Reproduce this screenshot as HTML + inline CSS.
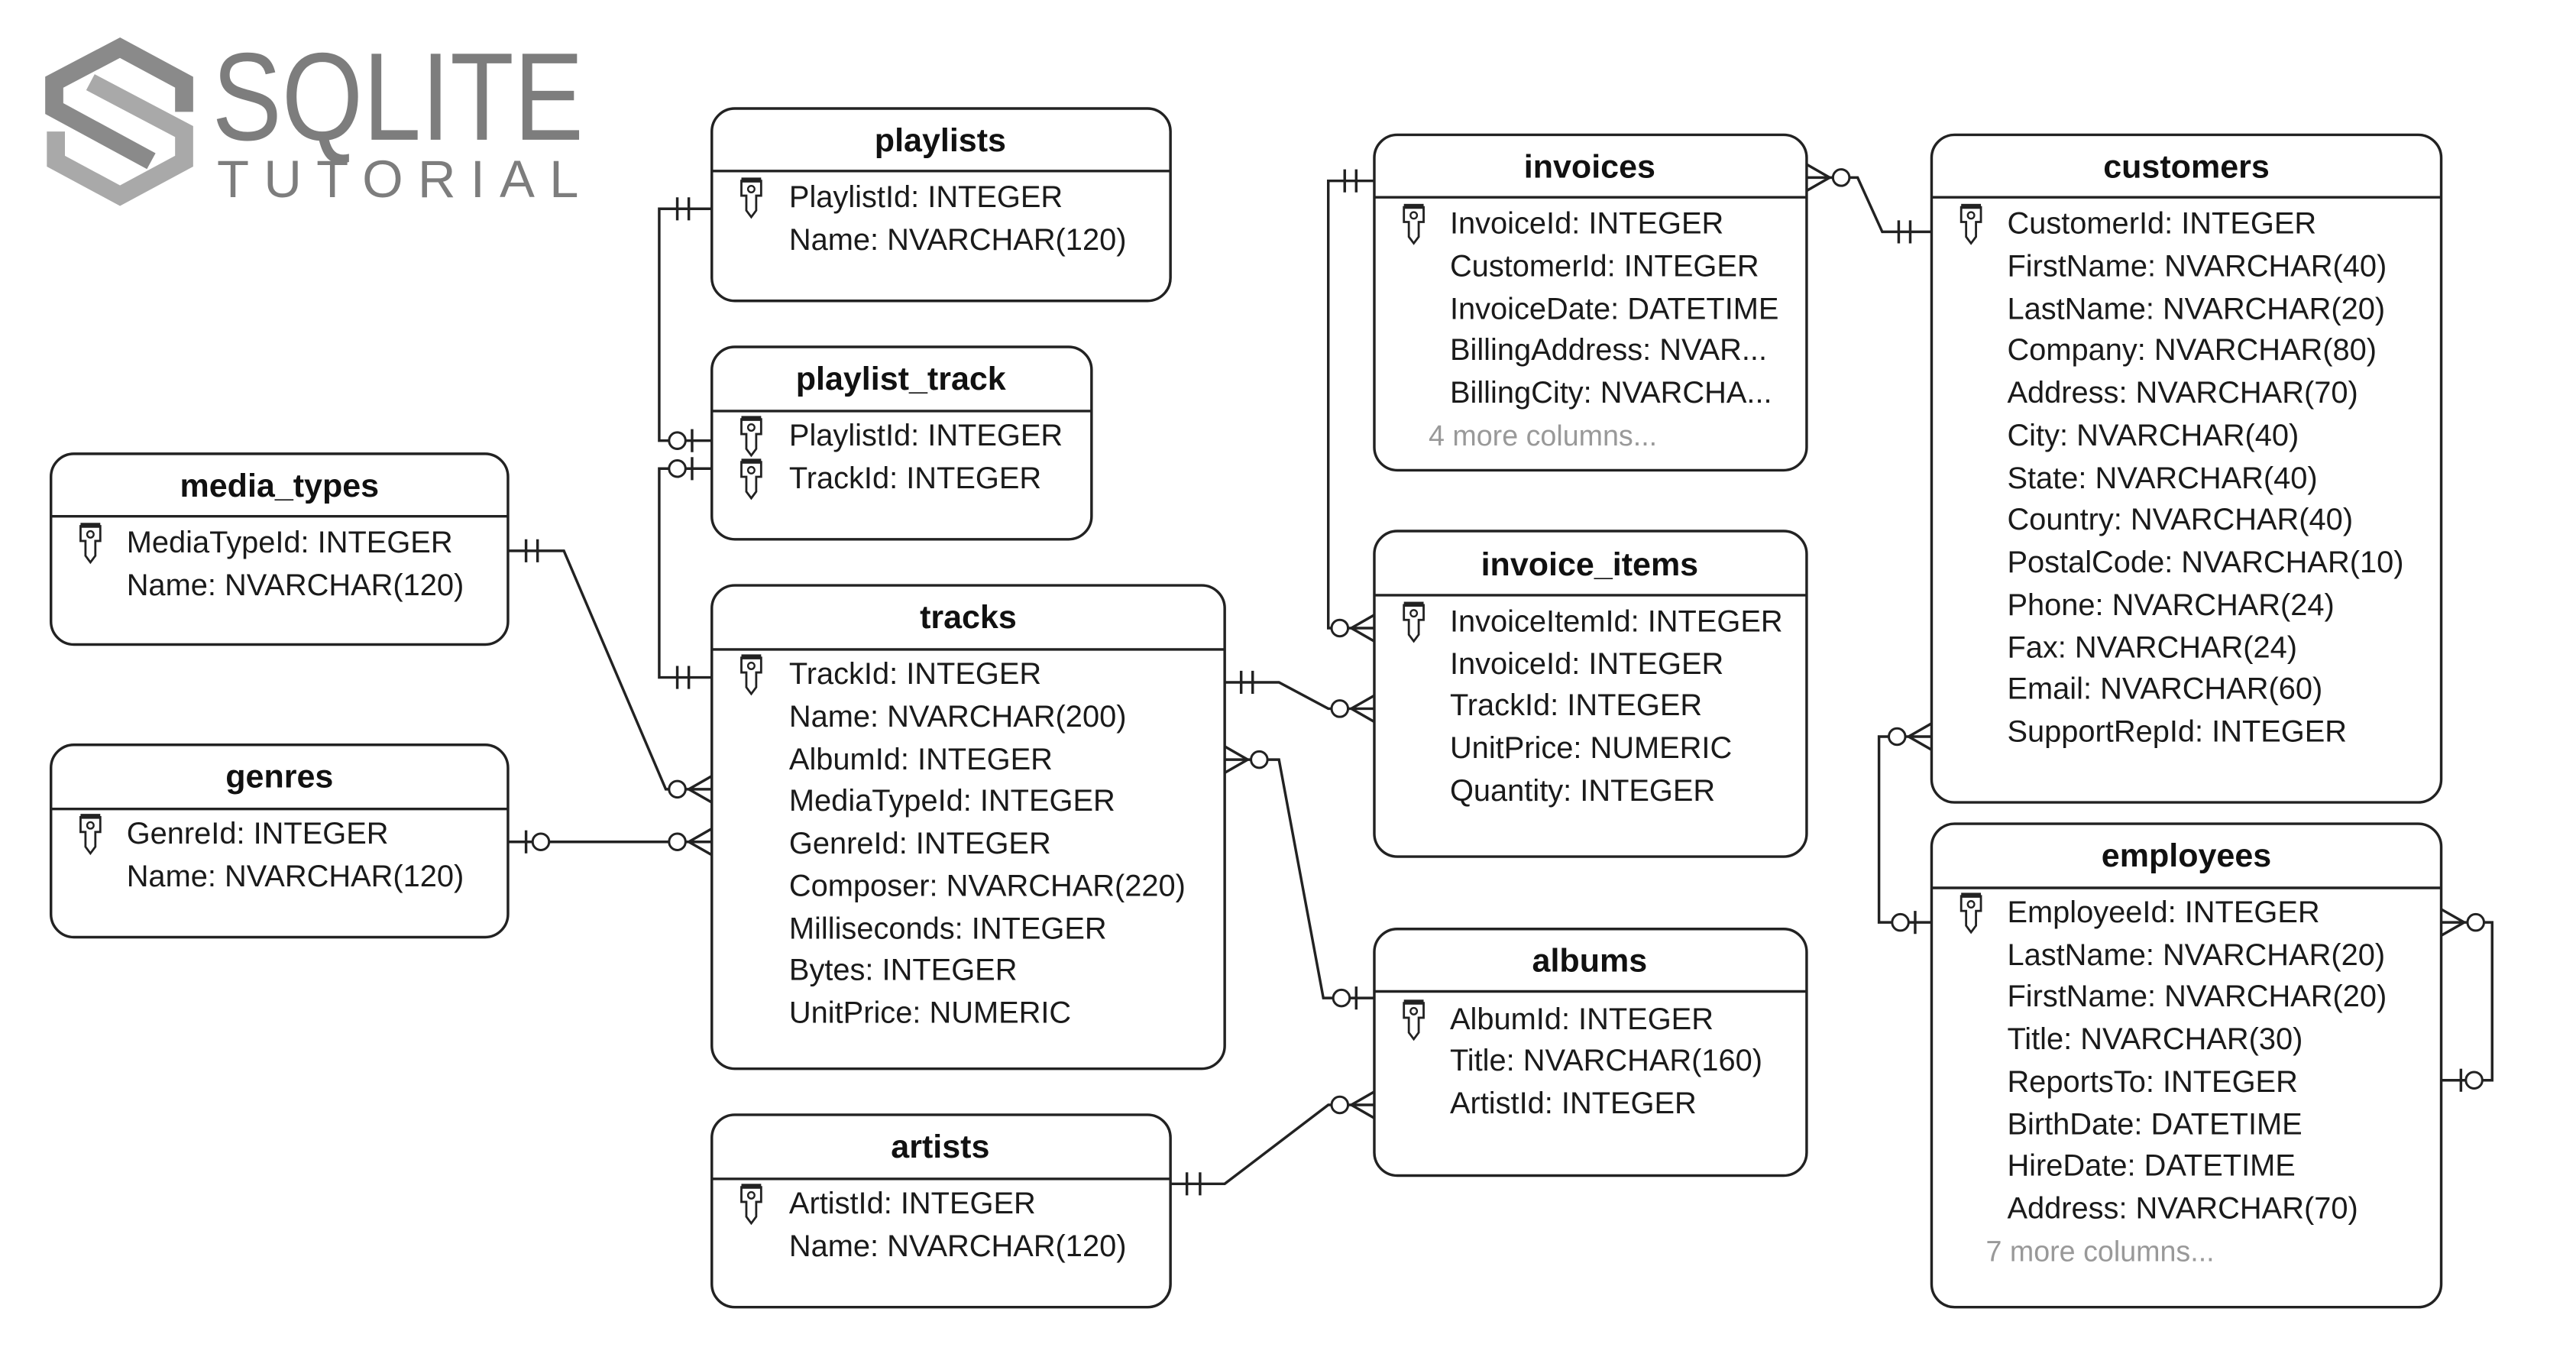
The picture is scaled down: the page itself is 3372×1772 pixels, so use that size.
<!DOCTYPE html>
<html><head><meta charset="utf-8"><style>
html,body{margin:0;padding:0;background:#fff;}
svg{display:block;}
text{font-family:"Liberation Sans",Arial,sans-serif;}
.t{font-size:20px;font-weight:bold;text-anchor:middle;fill:#111;}
.r{font-size:18.5px;fill:#1a1a1a;}
.g{font-size:17.5px;fill:#999;}
.b{fill:#fff;stroke:#222;stroke-width:1.6;}
.l{stroke:#222;stroke-width:1.6;fill:none;}
.c{stroke:#222;stroke-width:1.4;fill:#fff;}
</style></head><body>
<svg width="3372" height="1772" viewBox="0 0 1567 823.5" preserveAspectRatio="none" xmlns="http://www.w3.org/2000/svg">
<defs>
<g id="key"><path d="M-6,-9 h12 v9 h-3 v9 l-3,4 l-3,-4 v-9 h-3 z" fill="#fff" stroke="#222" stroke-width="1.3"/><circle cx="0" cy="-4" r="2" fill="none" stroke="#222" stroke-width="1.1"/><rect x="-6" y="-11" width="12" height="3" fill="#222"/></g>
</defs>
<!-- logo -->
<g fill="none" stroke-width="11" stroke-linejoin="miter">
<path d="M112,68 V50 L73,29 L33,50 V66 L92,98" stroke="#8a8a8a"/>
<path d="M34,80 V98 L73,119 L112,98 V80 L55,50" stroke="#a9a9a9"/>
</g>
<text x="129" y="85" textLength="226" lengthAdjust="spacingAndGlyphs" style="font-size:76px;fill:#7d7d7d;">SQLITE</text>
<text x="132" y="120" textLength="220" lengthAdjust="spacing" style="font-size:32px;fill:#7d7d7d;">TUTORIAL</text>

<!-- connectors -->
<g class="l">
<path d="M433,127 H401 V268 H433"/>
<path d="M433,285 H401 V412 H433"/>
<path d="M412,120 v14 M419,120 v14"/>
<path d="M421,261 v14 M421,278 v14"/>
<path d="M412,405 v14 M419,405 v14"/>
<path d="M309,335 H343 L405,480 H433"/>
<path d="M320,328 v14 M327,328 v14"/>
<path d="M419,480 L433,472 M419,480 L433,488"/>
<path d="M309,512 H433"/>
<path d="M320,505 v14"/>
<path d="M419,512 L433,504 M419,512 L433,520"/>
<path d="M836,110 H808 V382 H836"/>
<path d="M818,103 v14 M825,103 v14"/>
<path d="M822,382 L836,374 M822,382 L836,390"/>
<path d="M745,415 H778 L808,431 H836"/>
<path d="M755,408 v14 M762,408 v14"/>
<path d="M822,431 L836,423 M822,431 L836,439"/>
<path d="M745,462 H778 L805,607 H836"/>
<path d="M759,462 L745,454 M759,462 L745,470"/>
<path d="M825,600 v14"/>
<path d="M712,720 H745 L808,672 H836"/>
<path d="M722,713 v14 M730,713 v14"/>
<path d="M822,672 L836,664 M822,672 L836,680"/>
<path d="M1099,108 H1130 L1145,141 H1175"/>
<path d="M1113,108 L1099,100 M1113,108 L1099,116"/>
<path d="M1155,134 v14 M1162,134 v14"/>
<path d="M1175,448 H1143 V561 H1175"/>
<path d="M1161,448 L1175,440 M1161,448 L1175,456"/>
<path d="M1165,554 v14"/>
<path d="M1485,561 H1516 V657 H1485"/>
<path d="M1499,561 L1485,553 M1499,561 L1485,569"/>
<path d="M1497,650 v14"/>
</g>
<g class="c">
<circle cx="412" cy="268" r="5"/><circle cx="412" cy="285" r="5"/>
<circle cx="412" cy="480" r="5"/>
<circle cx="329" cy="512" r="5"/><circle cx="412" cy="512" r="5"/>
<circle cx="815" cy="382" r="5"/>
<circle cx="815" cy="431" r="5"/>
<circle cx="766" cy="462" r="5"/><circle cx="816" cy="607" r="5"/>
<circle cx="815" cy="672" r="5"/>
<circle cx="1120" cy="108" r="5"/>
<circle cx="1154" cy="448" r="5"/><circle cx="1156" cy="561" r="5"/>
<circle cx="1506" cy="561" r="5"/><circle cx="1505" cy="657" r="5"/>
</g>

<!-- playlists -->
<rect class="b" x="433" y="66" width="279" height="117" rx="14"/>
<line class="l" x1="433" y1="104" x2="712" y2="104"/>
<text class="t" x="572" y="92">playlists</text>
<use href="#key" x="457" y="119"/>
<text class="r" x="480" y="126">PlaylistId: INTEGER</text>
<text class="r" x="480" y="152">Name: NVARCHAR(120)</text>

<!-- playlist_track -->
<rect class="b" x="433" y="211" width="231" height="117" rx="14"/>
<line class="l" x1="433" y1="250" x2="664" y2="250"/>
<text class="t" x="548" y="237">playlist_track</text>
<use href="#key" x="457" y="264"/><use href="#key" x="457" y="290"/>
<text class="r" x="480" y="271">PlaylistId: INTEGER</text>
<text class="r" x="480" y="297">TrackId: INTEGER</text>

<!-- media_types -->
<rect class="b" x="31" y="276" width="278" height="116" rx="14"/>
<line class="l" x1="31" y1="314" x2="309" y2="314"/>
<text class="t" x="170" y="302">media_types</text>
<use href="#key" x="55" y="329"/>
<text class="r" x="77" y="336">MediaTypeId: INTEGER</text>
<text class="r" x="77" y="362">Name: NVARCHAR(120)</text>

<!-- genres -->
<rect class="b" x="31" y="453" width="278" height="117" rx="14"/>
<line class="l" x1="31" y1="492" x2="309" y2="492"/>
<text class="t" x="170" y="479">genres</text>
<use href="#key" x="55" y="506"/>
<text class="r" x="77" y="513">GenreId: INTEGER</text>
<text class="r" x="77" y="539">Name: NVARCHAR(120)</text>

<!-- tracks -->
<rect class="b" x="433" y="356" width="312" height="294" rx="14"/>
<line class="l" x1="433" y1="395" x2="745" y2="395"/>
<text class="t" x="589" y="382">tracks</text>
<use href="#key" x="457" y="409"/>
<text class="r" x="480" y="416">TrackId: INTEGER</text>
<text class="r" x="480" y="442">Name: NVARCHAR(200)</text>
<text class="r" x="480" y="468">AlbumId: INTEGER</text>
<text class="r" x="480" y="493">MediaTypeId: INTEGER</text>
<text class="r" x="480" y="519">GenreId: INTEGER</text>
<text class="r" x="480" y="545">Composer: NVARCHAR(220)</text>
<text class="r" x="480" y="571">Milliseconds: INTEGER</text>
<text class="r" x="480" y="596">Bytes: INTEGER</text>
<text class="r" x="480" y="622">UnitPrice: NUMERIC</text>

<!-- artists -->
<rect class="b" x="433" y="678" width="279" height="117" rx="14"/>
<line class="l" x1="433" y1="717" x2="712" y2="717"/>
<text class="t" x="572" y="704">artists</text>
<use href="#key" x="457" y="731"/>
<text class="r" x="480" y="738">ArtistId: INTEGER</text>
<text class="r" x="480" y="764">Name: NVARCHAR(120)</text>

<!-- invoices -->
<rect class="b" x="836" y="82" width="263" height="204" rx="14"/>
<line class="l" x1="836" y1="120" x2="1099" y2="120"/>
<text class="t" x="967" y="108">invoices</text>
<use href="#key" x="860" y="135"/>
<text class="r" x="882" y="142">InvoiceId: INTEGER</text>
<text class="r" x="882" y="168">CustomerId: INTEGER</text>
<text class="r" x="882" y="194">InvoiceDate: DATETIME</text>
<text class="r" x="882" y="219">BillingAddress: NVAR...</text>
<text class="r" x="882" y="245">BillingCity: NVARCHA...</text>
<text class="g" x="869" y="271">4 more columns...</text>

<!-- invoice_items -->
<rect class="b" x="836" y="323" width="263" height="198" rx="14"/>
<line class="l" x1="836" y1="362" x2="1099" y2="362"/>
<text class="t" x="967" y="350">invoice_items</text>
<use href="#key" x="860" y="377"/>
<text class="r" x="882" y="384">InvoiceItemId: INTEGER</text>
<text class="r" x="882" y="410">InvoiceId: INTEGER</text>
<text class="r" x="882" y="435">TrackId: INTEGER</text>
<text class="r" x="882" y="461">UnitPrice: NUMERIC</text>
<text class="r" x="882" y="487">Quantity: INTEGER</text>

<!-- albums -->
<rect class="b" x="836" y="565" width="263" height="150" rx="14"/>
<line class="l" x1="836" y1="603" x2="1099" y2="603"/>
<text class="t" x="967" y="591">albums</text>
<use href="#key" x="860" y="619"/>
<text class="r" x="882" y="626">AlbumId: INTEGER</text>
<text class="r" x="882" y="651">Title: NVARCHAR(160)</text>
<text class="r" x="882" y="677">ArtistId: INTEGER</text>

<!-- customers -->
<rect class="b" x="1175" y="82" width="310" height="406" rx="14"/>
<line class="l" x1="1175" y1="120" x2="1485" y2="120"/>
<text class="t" x="1330" y="108">customers</text>
<use href="#key" x="1199" y="135"/>
<text class="r" x="1221" y="142">CustomerId: INTEGER</text>
<text class="r" x="1221" y="168">FirstName: NVARCHAR(40)</text>
<text class="r" x="1221" y="194">LastName: NVARCHAR(20)</text>
<text class="r" x="1221" y="219">Company: NVARCHAR(80)</text>
<text class="r" x="1221" y="245">Address: NVARCHAR(70)</text>
<text class="r" x="1221" y="271">City: NVARCHAR(40)</text>
<text class="r" x="1221" y="297">State: NVARCHAR(40)</text>
<text class="r" x="1221" y="322">Country: NVARCHAR(40)</text>
<text class="r" x="1221" y="348">PostalCode: NVARCHAR(10)</text>
<text class="r" x="1221" y="374">Phone: NVARCHAR(24)</text>
<text class="r" x="1221" y="400">Fax: NVARCHAR(24)</text>
<text class="r" x="1221" y="425">Email: NVARCHAR(60)</text>
<text class="r" x="1221" y="451">SupportRepId: INTEGER</text>

<!-- employees -->
<rect class="b" x="1175" y="501" width="310" height="294" rx="14"/>
<line class="l" x1="1175" y1="540" x2="1485" y2="540"/>
<text class="t" x="1330" y="527">employees</text>
<use href="#key" x="1199" y="554"/>
<text class="r" x="1221" y="561">EmployeeId: INTEGER</text>
<text class="r" x="1221" y="587">LastName: NVARCHAR(20)</text>
<text class="r" x="1221" y="612">FirstName: NVARCHAR(20)</text>
<text class="r" x="1221" y="638">Title: NVARCHAR(30)</text>
<text class="r" x="1221" y="664">ReportsTo: INTEGER</text>
<text class="r" x="1221" y="690">BirthDate: DATETIME</text>
<text class="r" x="1221" y="715">HireDate: DATETIME</text>
<text class="r" x="1221" y="741">Address: NVARCHAR(70)</text>
<text class="g" x="1208" y="767">7 more columns...</text>
</svg>
</body></html>
